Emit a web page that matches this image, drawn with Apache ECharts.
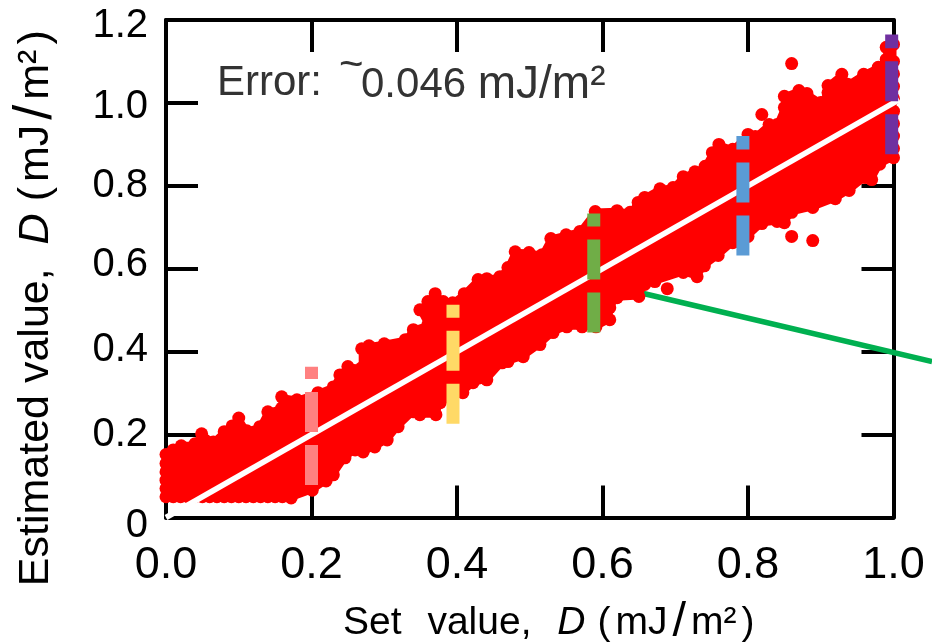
<!DOCTYPE html>
<html><head><meta charset="utf-8">
<script src="https://cdn.jsdelivr.net/npm/echarts@6/dist/echarts.min.js"></script>
<style>html,body{margin:0;padding:0;background:#fff}#c{width:932px;height:643px}</style></head>
<body><div id="c"></div>
<script>
const upperEdge=[[0,.152],[.010,.163],[.021,.173],[.040,.178],[.049,.202],[.065,.182],[.080,.207],[.091,.221],[.100,.240],[.111,.209],[.129,.219],[.140,.255],[.159,.264],[.159,.291],[.180,.284],[.209,.301],[.230,.315],[.239,.344],[.250,.364],[.269,.361],[.269,.407],[.279,.414],[.300,.419],[.329,.429],[.340,.453],[.360,.465],[.349,.501],[.360,.521],[.370,.540],[.381,.521],[.394,.518],[.410,.540],[.429,.574],[.441,.576],[.459,.581],[.470,.603],[.480,.641],[.499,.639],[.517,.634],[.529,.673],[.550,.682],[.569,.690],[.590,.738],[.620,.740],[.638,.736],[.649,.760],[.658,.772],[.679,.793],[.697,.796],[.711,.822],[.727,.834],[.741,.847],[.751,.880],[.760,.900],[.779,.888],[.800,.924],[.810,.919],[.829,.948],[.840,.948],[.850,.989],[.850,1.016],[.870,1.030],[.881,1.023],[.900,1.001],[.910,1.025],[.910,1.042],[.929,1.069],[.937,1.045],[.959,1.069],[.979,1.086],[.990,1.105],[.990,1.134],[1,1.141]];
const lowerEdge=[[0,.05],[.01,.05],[.02,.05],[.03,.05],[.04,.05],[.05,.05],[.06,.05],[.07,.05],[.08,.05],[.09,.05],[.10,.05],[.11,.05],[.12,.05],[.13,.05],[.14,.05],[.15,.05],[.16,.05],[.172,.047],[.201,.066],[.220,.088],[.230,.103],[.246,.144],[.260,.163],[.271,.158],[.287,.170],[.304,.187],[.319,.219],[.340,.255],[.349,.248],[.371,.248],[.377,.277],[.408,.301],[.422,.325],[.441,.332],[.462,.373],[.470,.376],[.491,.388],[.514,.417],[.532,.446],[.551,.460],[.572,.460],[.591,.460],[.610,.477],[.610,.506],[.620,.530],[.650,.533],[.658,.562],[.672,.569],[.711,.591],[.730,.581],[.740,.607],[.759,.632],[.779,.663],[.800,.678],[.819,.709],[.840,.714],[.850,.711],[.860,.736],[.889,.748],[.920,.769],[.939,.789],[.961,.820],[.970,.815],[.981,.852],[1,.868]];
const leftEdge=[[0,.07],[0,.09],[0,.11],[0,.13]];
const rightEdge=[[1,.89],[1,.92],[1,.95],[1,.98],[1,1.01],[1,1.04],[1,1.07],[1,1.10]];
const outliers=[[.860,1.095],[.819,.972],[.373,.496],[.860,.678],[.889,.668],[.689,.552]];
const identityLine=[[0,0],[1.008,1.008]];
const pointerLine=[[.652,.542],[1.053,.376]];
const pinkDash=[[.2,.0785],[.2,.3635]];
const yellowDash=[[.3945,.226],[.3945,.513]];
const greenDash=[[.588,.446],[.588,.733]];
const blueDash=[[.793,.632],[.793,.920]];
const purpleDash=[[.9975,.876],[.9975,1.165]];

const lat='"Liberation Sans",Arial,sans-serif';
function nameRich(size){const b={fontFamily:lat,fontSize:size,color:'#000'};return {
  t:b,
  g1:{...b,padding:[0,15,0,0]},
  g2:{...b,padding:[0,15,0,0]},
  i:{...b,fontStyle:'italic',padding:[0,12,0,0]},
  p:{...b,padding:[0,5,0,0]},
  s:{...b,fontSize:size*1.25,padding:[0,5,0,5]}};}
const dash=(name,data,color)=>({name,type:'line',data,symbol:'none',clip:false,z:6,silent:true,animation:false,
  lineStyle:{color,width:13,type:[40,13],cap:'butt'}});
const stroke=(name,data,color,width,z)=>({name,type:'custom',coordinateSystem:'cartesian2d',data:[[0,0]],clip:false,z,silent:true,
  renderItem:(p,api)=>({type:'polyline',shape:{points:data.map(d=>api.coord(d))},style:{stroke:color,lineWidth:width,fill:null}})});
const axisCommon={axisLine:{show:true,onZero:false,lineStyle:{color:'#000',width:4}},
  axisTick:{show:true,inside:true,length:32,lineStyle:{color:'#000',width:4}},splitLine:{show:false}};
const yLabelShift={a:{padding:[16,0,0,0]},b:{padding:[0,0,8,0]},c:{padding:[0,0,4,0]},d:{padding:[0,0,0,0]},e:{padding:[12,0,0,0]},f:{padding:[8,0,0,0]}};
const chart=echarts.init(document.getElementById('c'),null,{renderer:'canvas'});
chart.setOption({
  animation:false,backgroundColor:'#fff',
  grid:{left:166,right:38.5,top:20,bottom:125.5,containLabel:false,outerBoundsMode:'none'},
  xAxis:[
   {...axisCommon,type:'value',min:0,max:1,interval:.2,position:'bottom',
    axisLabel:{fontFamily:lat,fontSize:45,color:'#000',margin:26,formatter:v=>v.toFixed(1)},
    name:'{g1|Set }{g2|value, }{i|D}{p|(}{t|mJ}{s|/}{p|m²}{t|)}',nameLocation:'middle',nameGap:81,nameMoveOverlap:false,
    nameTextStyle:{rich:nameRich(39),padding:[0,0,0,38]}},
   {...axisCommon,type:'value',min:0,max:1,interval:.2,position:'top',axisLabel:{show:false}}
  ],
  yAxis:[
   {...axisCommon,type:'value',min:0,max:1.2,interval:.2,position:'left',
    axisLabel:{fontFamily:lat,fontSize:40,color:'#000',margin:18,
      formatter:v=>{const s=v===0?'0':v.toFixed(1);const k=v===0?'a':v>1.1?'e':v>.9?'f':v>.5&&v<.7?'b':v>.3&&v<.5?'c':'d';return '{'+k+'|'+s+'}';},
      rich:yLabelShift},
    name:'{t|Estimated }{g3|value, }{i|D}{p|(}{t|mJ}{s|/}{p|m²}{t|)}',nameLocation:'middle',nameGap:103,nameMoveOverlap:false,
    nameTextStyle:{rich:{...nameRich(43),g3:{fontFamily:lat,fontSize:43,color:'#000',padding:[0,12,0,0]}},padding:[0,79,0,0]}},
   {...axisCommon,type:'value',min:0,max:1.2,interval:.2,position:'right',axisLabel:{show:false}}
  ],
  graphic:[
   {type:'text',left:217,top:62,z:20,style:{text:'{t|Error:}',rich:{t:{fontFamily:lat,fontSize:42,fill:'#333'}}}},
   {type:'text',left:339,top:45,z:20,style:{text:'~',fontFamily:lat,fontSize:42,fill:'#333'}},
   {type:'text',left:361,top:62,z:20,style:{text:'{t|0.046 }{u|mJ/m²}',rich:{t:{fontFamily:lat,fontSize:42,fill:'#333'},u:{fontFamily:lat,fontSize:46,fill:'#333'}}}}
  ],
  series:[
   stroke('pointer',pointerLine,'#00B050',5.5,1),
   {name:'band',type:'custom',coordinateSystem:'cartesian2d',data:[[0,0]],clip:false,z:2,silent:true,
    renderItem:(p,api)=>({type:'polygon',shape:{points:upperEdge.concat(lowerEdge.slice().reverse()).map(d=>api.coord(d))},style:{fill:'#FF0000',stroke:'#FF0000',lineWidth:6,lineJoin:'round'}})},
   {name:'estimates',type:'scatter',data:upperEdge.concat(lowerEdge,leftEdge,rightEdge,outliers),symbol:'circle',symbolSize:13,clip:false,z:3,silent:true,itemStyle:{color:'#FF0000',opacity:1}},
   stroke('ideal',identityLine,'#FFFFFF',5.5,4),
   dash('D=0.2',pinkDash,'#FF8080'),dash('D=0.4',yellowDash,'#FFD966'),dash('D=0.6',greenDash,'#70AD47'),dash('D=0.8',blueDash,'#5B9BD5'),dash('D=1.0',purpleDash,'#7030A0')
  ]
});
</script></body></html>
